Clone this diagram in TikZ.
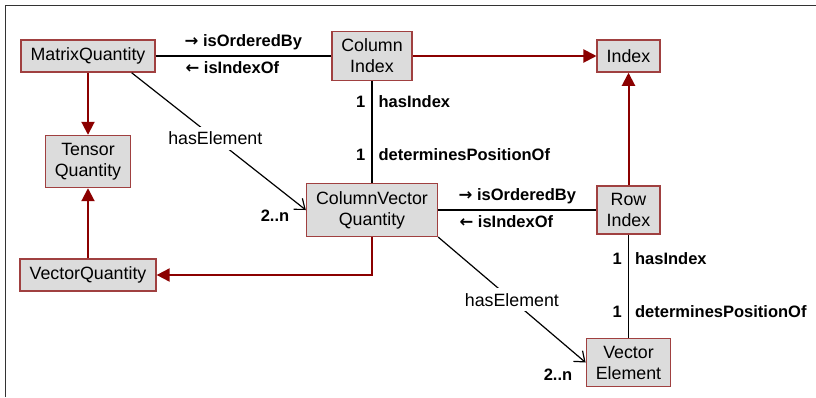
\documentclass[tikz,border=0pt]{standalone}
\usepackage{fontspec}
\setmainfont{Liberation Sans}
\newfontfamily\arrowfont{DejaVu Sans}
\usetikzlibrary{arrows.meta}
\definecolor{boxedge}{HTML}{A04040}
\definecolor{boxfill}{HTML}{DCDCDC}
\definecolor{umlred}{HTML}{8B0000}
\newcommand{\toR}{{\arrowfont\bfseries →}}
\newcommand{\toL}{{\arrowfont\bfseries ←}}

\begin{document}
\begin{tikzpicture}[x=1pt, y=-1pt,
    box/.style={draw=boxedge, line width=1.5pt, fill=boxfill, align=center,
        inner xsep=9.5pt, inner ysep=7.5pt, minimum height=32pt,
        font=\fontsize{17.8}{21}\selectfont},
    isa/.style={draw=umlred, line width=2pt, -{Triangle[length=13pt,width=13pt]}},
    assoc/.style={draw=black, line width=1.2pt},
    part/.style={assoc, -{Straight Barb[length=9pt,width=14pt]}},
    role/.style={font=\fontsize{16.5}{20}\selectfont\bfseries, inner sep=1pt},
    plain/.style={font=\fontsize{17.8}{21}\selectfont, fill=white, inner xsep=2pt, inner ysep=5pt}]
    \useasboundingbox (0,0) rectangle (816,397);

    % 外框 (只有上边和左边)
    \draw[line width=1.5pt, black!80] (5.5,397) -- (5.5,5.5) -- (816,5.5);

    % 类
    \node[box] (mq) at (88,56) {MatrixQuantity};
    \node[box] (ci) at (372,56) {Column\\Index};
    \node[box] (idx) at (628.5,56) {Index};
    \node[box] (tq) at (88,161.5) {Tensor\\Quantity};
    \node[box] (cv) at (372,210) {ColumnVector\\Quantity};
    \node[box] (ri) at (628.5,210) {Row\\Index};
    \node[box] (vq) at (88,275) {VectorQuantity};
    \node[box] (ve) at (628.5,362.5) {Vector\\Element};

    % 继承关系
    \draw[isa] (mq) -- (tq);
    \draw[isa] (vq) -- (tq);
    \draw[isa] (ci) -- (idx);
    \draw[isa] (ri) -- (idx);
    \draw[isa] (cv.south) |- (vq.east);

    % 关联
    \draw[assoc] (mq) -- (ci)
        node[role, midway, above=4pt] {\toR\ isOrderedBy}
        node[role, midway, below=4pt, xshift=-11pt] {\toL\ isIndexOf};
    \draw[assoc] (cv) -- (ri)
        node[role, midway, above=4pt] {\toR\ isOrderedBy}
        node[role, midway, below=4pt, xshift=-11pt] {\toL\ isIndexOf};
    \draw[assoc] (ci) -- (cv)
        node[role, pos=.2, left=5pt] {1}
        node[role, pos=.2, right=5pt] {hasIndex}
        node[role, pos=.72, left=5pt] {1}
        node[role, pos=.72, right=5pt] {determinesPositionOf};
    \draw[assoc] (ri) -- (ve)
        node[role, pos=.23, left=5pt] {1}
        node[role, pos=.23, right=5pt] {hasIndex}
        node[role, pos=.75, left=5pt] {1}
        node[role, pos=.75, right=5pt] {determinesPositionOf};

    % 组成关系 hasElement
    \draw[part] (mq.-21) -- (cv.west) node[plain, pos=.48] {hasElement};
    \draw[part] (cv.south east) -- (ve.west) node[plain, midway] {hasElement};
    \node[role] (n1) at (275,216) {2..n};
    \node[role] (n2) at (558,375) {2..n};
\end{tikzpicture}
\end{document}
